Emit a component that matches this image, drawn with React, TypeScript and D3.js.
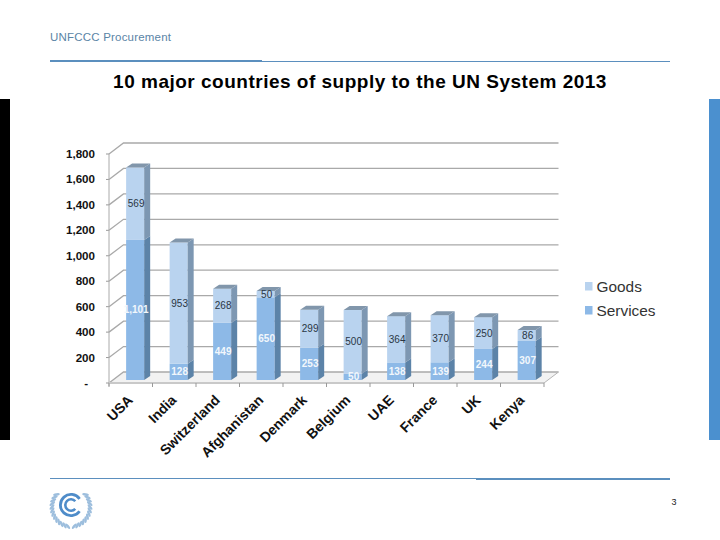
import React from 'react';
import * as d3 from 'd3';

const countries = ['USA', 'India', 'Switzerland', 'Afghanistan', 'Denmark', 'Belgium', 'UAE', 'France', 'UK', 'Kenya'];
const services = [1101, 128, 449, 650, 253, 50, 138, 139, 244, 307];
const goods = [569, 953, 268, 50, 299, 500, 364, 370, 250, 86];
const yTicks = [0, 200, 400, 600, 800, 1000, 1200, 1400, 1600, 1800];
const seriesNames = ['Services', 'Goods'];

const SANS = '"Liberation Sans", Arial, sans-serif';

const front = { left: 109, right: 544, bottom: 383, top: 154 };
const wall = { dx: 14.5, dy: -11 }; // depth of the fake 3d box
const bar = { dx: 6, dy: -4, shiftX: 4.4, shiftY: -3 };

const x = d3.scaleBand<string>().domain(countries).range([front.left, front.right]).paddingInner(0.585).paddingOuter(0.2925);
const y = d3.scaleLinear().domain([0, 1800]).range([front.bottom, front.top]);

const rows = countries.map((c, i) => ({ country: c, Services: services[i], Goods: goods[i] }));
const stacked = d3.stack<any>().keys(seriesNames)(rows);

const colors: Record<string, { face: string; side: string; label: string; weight: string | number }> = {
    Goods: { face: '#b9d3ef', side: '#7d97b2', label: '#2a3644', weight: 400 },
    Services: { face: '#8db9e7', side: '#5c83a8', label: '#f2f7fc', weight: 700 },
};

const tickFmt = (v: number) => (v === 0 ? '-' : d3.format(',')(v));

// UNFCCC emblem, laurel leaves placed round the ring
const Logo = () => {
    const cx = 71;
    const cy = 505;
    const arc = d3.arc();
    const leaves = d3.range(-40, 88, 10);
    return (
        <g>
            {[-1, 1].map(side =>
                leaves.map(a => {
                    const rad = (a * Math.PI) / 180;
                    const lx = cx + side * 19 * Math.cos(rad);
                    const ly = cy + 2 + 19.5 * Math.sin(rad);
                    return (
                        <ellipse key={`${side}${a}`} cx={lx} cy={ly} rx={3.4} ry={1.3} fill="#9dbedd"
                            transform={`rotate(${side * (a + 50)} ${lx} ${ly})`} />
                    );
                })
            )}
            <path transform={`translate(${cx},${cy})`} fill="#4f8cc9"
                d={arc({ innerRadius: 9.2, outerRadius: 12, startAngle: 2.2, endAngle: Math.PI * 2 + 0.95 } as any) as string} />
            <path transform={`translate(${cx},${cy})`} fill="#4f8cc9"
                d={arc({ innerRadius: 4.4, outerRadius: 7, startAngle: 2.3, endAngle: Math.PI * 2 + 0.85 } as any) as string} />
        </g>
    );
};

export default function App() {
    const bw = x.bandwidth();
    return (
        <svg width={720} height={540} style={{ position: 'absolute', left: 0, top: 0, background: '#fff' }} fontFamily={SANS}>
            {/* slide furniture */}
            <text x={50} y={41} fontSize={11.5} letterSpacing={0.2} fill="#5a84a6">UNFCCC Procurement</text>
            <line x1={50} x2={670} y1={61.5} y2={61.5} stroke="#5b8fbe" strokeWidth={1} />
            <line x1={50} x2={262} y1={61} y2={61} stroke="#5b8fbe" strokeWidth={2} />
            <text x={360} y={88} textAnchor="middle" fontSize={19} fontWeight={700} fill="#000" letterSpacing={0.5}>
                10 major countries of supply to the UN System 2013
            </text>
            <rect x={0} y={99} width={10} height={341} fill="#000" />
            <rect x={709} y={99} width={11} height={341} fill="#4b90cf" />

            {/* floor */}
            <polygon
                points={`${front.left},${front.bottom} ${front.right},${front.bottom} ${front.right + wall.dx},${front.bottom + wall.dy} ${front.left + wall.dx},${front.bottom + wall.dy}`}
                fill="#f2f2f2"
            />
            {/* grid */}
            {yTicks.map(t => (
                <g key={t}>
                    <path
                        d={`M${front.left},${y(t)}L${front.left + wall.dx},${y(t) + wall.dy}H${front.right + wall.dx}`}
                        fill="none" stroke="#a9a9a9" strokeWidth={1.3}
                    />
                    <line x1={front.left - 3} x2={front.left} y1={y(t)} y2={y(t)} stroke="#999" />
                    <text x={t === 0 ? 88 : 95} y={y(t) + 4} textAnchor="end" fontSize={11.6} fontWeight={700} fill="#111">
                        {tickFmt(t)}
                    </text>
                </g>
            ))}
            <line x1={front.left} x2={front.left} y1={front.top} y2={front.bottom + 3} stroke="#aaa" />
            <line x1={front.left} x2={front.right} y1={front.bottom} y2={front.bottom} stroke="#c9c9c9" strokeWidth={2} />
            <line x1={front.right} x2={front.right + wall.dx} y1={front.bottom} y2={front.bottom + wall.dy} stroke="#b5b5b5" />
            {d3.range(11).map(i => {
                const tx = front.left + (i * (front.right - front.left)) / 10;
                return <line key={i} x1={tx} x2={tx} y1={front.bottom} y2={front.bottom + 4} stroke="#999" />;
            })}

            {/* bars, bottom series first */}
            {countries.map((c, i) => {
                const bx = (x(c) as number) + bar.shiftX;
                return (
                    <g key={c}>
                        {stacked.map(s => {
                            const col = colors[s.key];
                            const y0 = y(s[i][0]) + bar.shiftY;
                            const y1 = y(s[i][1]) + bar.shiftY;
                            return (
                                <g key={s.key}>
                                    <rect x={bx} y={y1} width={bw} height={y0 - y1} fill={col.face} />
                                    <polygon
                                        points={`${bx + bw},${y0} ${bx + bw + bar.dx},${y0 + bar.dy} ${bx + bw + bar.dx},${y1 + bar.dy} ${bx + bw},${y1}`}
                                        fill={col.side}
                                    />
                                </g>
                            );
                        })}
                        <polygon
                            points={`${bx},${y(goods[i] + services[i]) + bar.shiftY} ${bx + bar.dx},${y(goods[i] + services[i]) + bar.shiftY + bar.dy} ${bx + bw + bar.dx},${y(goods[i] + services[i]) + bar.shiftY + bar.dy} ${bx + bw},${y(goods[i] + services[i]) + bar.shiftY}`}
                            fill="#8196ab"
                        />
                        {stacked.map(s => {
                            const col = colors[s.key];
                            const mid = y((s[i][0] + s[i][1]) / 2) + bar.shiftY;
                            const v = s[i][1] - s[i][0];
                            return (
                                <text key={s.key} x={bx + bw / 2 + 1} y={mid + 3.5} textAnchor="middle" fontSize={10} fontWeight={col.weight} fill={col.label}>
                                    {d3.format(',')(v)}
                                </text>
                            );
                        })}
                        <text
                            transform={`translate(${(x(c) as number) + bw / 2 + 3},${front.bottom + 18}) rotate(-45)`}
                            textAnchor="end" fontSize={14} fontWeight={700} fill="#111"
                        >
                            {c}
                        </text>
                    </g>
                );
            })}

            {/* legend */}
            {['Goods', 'Services'].map((k, i) => (
                <g key={k}>
                    <rect x={585} y={282 + i * 24} width={7.5} height={8.5} fill={colors[k].face} />
                    <text x={596.5} y={291.5 + i * 24} fontSize={15.4} fill="#333">{k}</text>
                </g>
            ))}

            {/* footer */}
            <line x1={50} x2={670} y1={478.5} y2={478.5} stroke="#5b8fbe" strokeWidth={1} />
            <line x1={476} x2={670} y1={479} y2={479} stroke="#5b8fbe" strokeWidth={2} />
            <Logo />
            <text x={674} y={505} textAnchor="middle" fontSize={9} fill="#222">3</text>
        </svg>
    );
}
